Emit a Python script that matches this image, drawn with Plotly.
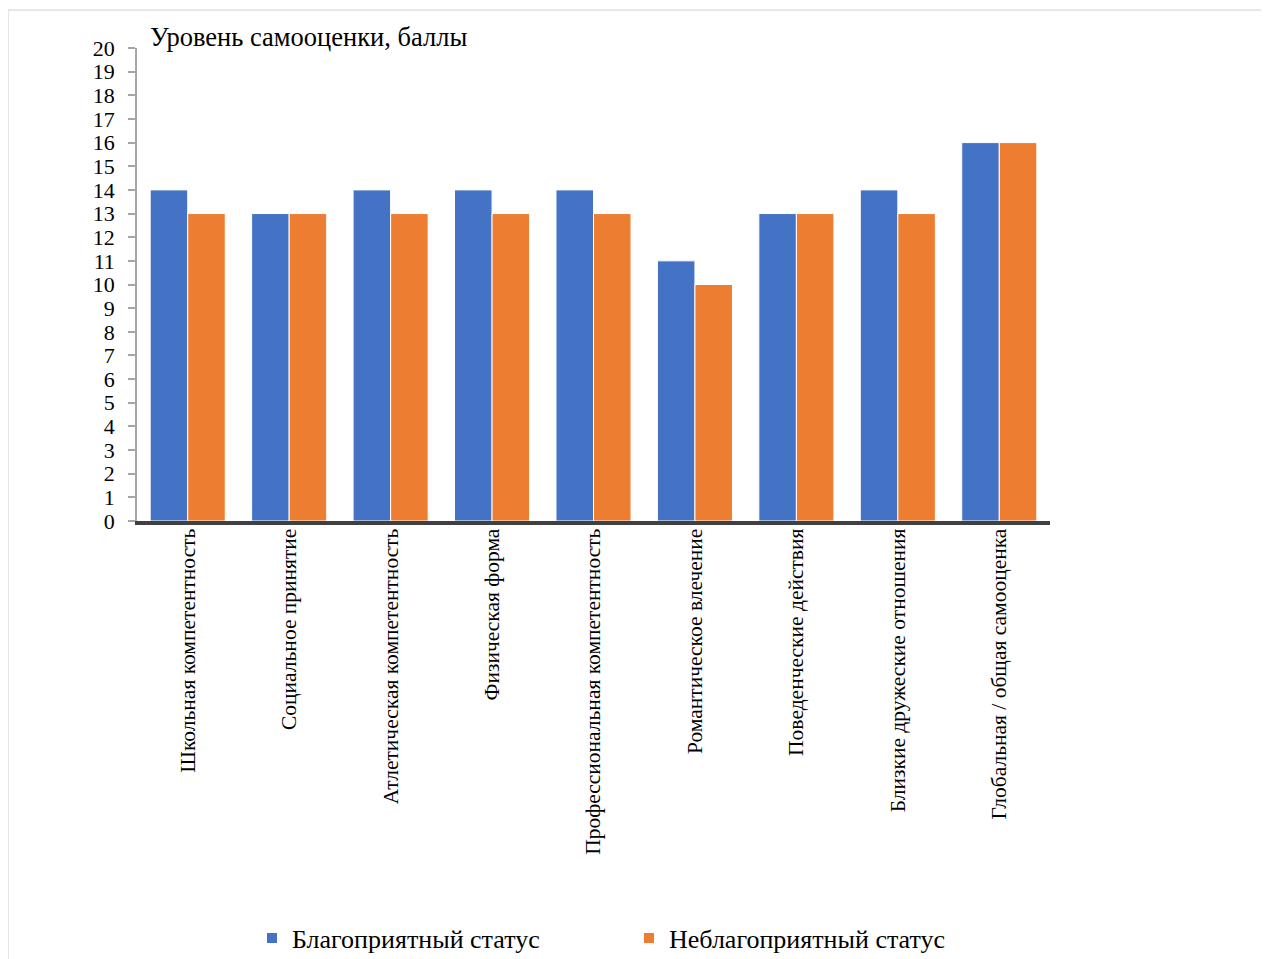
import plotly.graph_objects as go

categories = ["Школьная компетентность", "Социальное принятие", "Атлетическая компетентность",
              "Физическая форма", "Профессиональная компетентность", "Романтическое влечение",
              "Поведенческие действия", "Близкие дружеские отношения", "Глобальная / общая самооценка"]
favorable = [14, 13, 14, 14, 14, 11, 13, 14, 16]
unfavorable = [13, 13, 13, 13, 13, 10, 13, 13, 16]
y_ticks = list(range(0, 21))

FONT = "Liberation Serif"
OFF = 8  # browser body margin
W, H = 1269 - OFF, 959 - OFF
# plot area in reference (page) pixels
L, R, T, B = 137, 1050, 48, 521
pw, ph = R - L, B - T


def px(x):
    return (x - L) / pw


def py(y):
    return (B - y) / ph


fig = go.Figure()
fig.add_bar(x=categories, y=favorable, name="Благоприятный статус",
            marker=dict(color="#4472C4", line=dict(color="white", width=1)))
fig.add_bar(x=categories, y=unfavorable, name="Неблагоприятный статус",
            marker=dict(color="#ED7D31", line=dict(color="white", width=1)))

fig.update_layout(
    width=W, height=H,
    margin=dict(l=L - OFF, r=W - (R - OFF), t=T - OFF, b=H - (B - OFF), autoexpand=False),
    paper_bgcolor="white", plot_bgcolor="white",
    font=dict(family=FONT, color="black"),
    barmode="group", bargap=0.26, bargroupgap=0.0,
    showlegend=True,
    legend=dict(orientation="h", x=px(252), y=py(938), xanchor="left", yanchor="middle",
                font=dict(family=FONT, size=26), entrywidth=332, entrywidthmode="pixels",
                itemsizing="constant", traceorder="normal"),
    xaxis=dict(showgrid=False, showline=True, linecolor="#404040", linewidth=4,
               tickangle=-90, tickfont=dict(family=FONT, size=21.5), ticks="",
               ticklabelstandoff=-5, zeroline=False),
    yaxis=dict(range=[0, 20], tickvals=y_ticks, showgrid=False, showline=True,
               linecolor="#a6a6a6", linewidth=1.5, ticks="outside", ticklen=7,
               tickcolor="#a6a6a6", tickwidth=1.5, tickfont=dict(family=FONT, size=22),
               ticklabelstandoff=9, zeroline=False),
    shapes=[dict(type="rect", xref="paper", yref="paper",
                 x0=px(8), x1=px(1300), y0=py(990), y1=py(10),
                 line=dict(color="#d0d0d0", width=1), fillcolor="rgba(0,0,0,0)", layer="below")],
    annotations=[dict(text="Уровень самооценки, баллы", xref="paper", yref="paper",
                      x=px(148), y=py(37), xanchor="left", yanchor="middle", showarrow=False,
                      font=dict(family=FONT, size=26.5, color="black"))],
)

fig.write_html("out.html")
